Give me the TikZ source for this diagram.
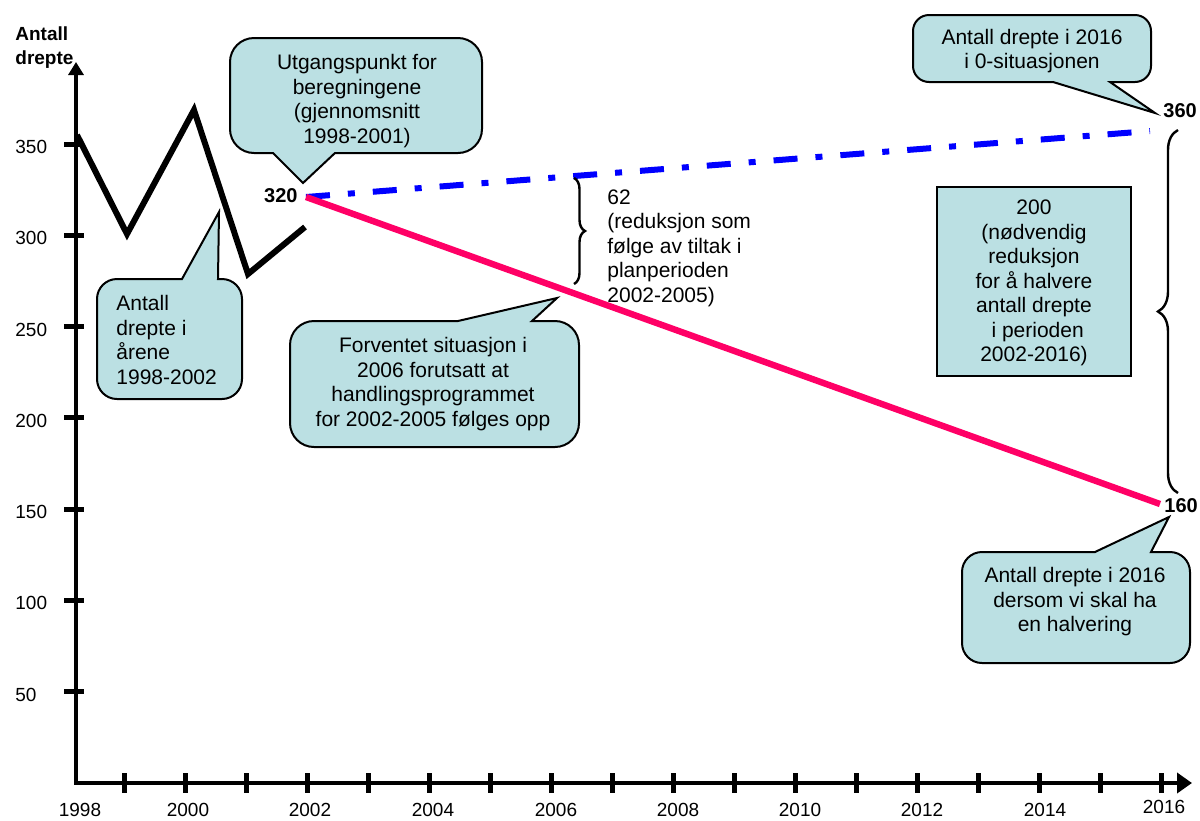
\documentclass[tikz,border=0pt]{standalone}
\usepackage{fontspec}
\setmainfont{Liberation Sans}
\usetikzlibrary{arrows.meta,decorations.pathreplacing}
\definecolor{bubblefill}{RGB}{187,224,227}
\definecolor{lineblue}{RGB}{0,0,255}
\definecolor{linepink}{RGB}{255,0,102}
% #1 L, #2 T, #3 R, #4 B, #5 radius, #6 top pointer part, #7 bottom pointer part
\newcommand{\drawbubble}[7]{%
  \draw[bubble] (#1+#5,#2) #6 -- (#3-#5,#2)
    .. controls (#3-0.448*#5,#2) and (#3,#2+0.448*#5) .. (#3,#2+#5)
    -- (#3,#4-#5)
    .. controls (#3,#4-0.448*#5) and (#3-0.448*#5,#4) .. (#3-#5,#4)
    #7 -- (#1+#5,#4)
    .. controls (#1+0.448*#5,#4) and (#1,#4-0.448*#5) .. (#1,#4-#5)
    -- (#1,#2+#5)
    .. controls (#1,#2+0.448*#5) and (#1+0.448*#5,#2) .. (#1+#5,#2) -- cycle;}
\begin{document}
\begin{tikzpicture}[x=0.5pt,y=-0.5pt,
  bubble/.style={draw=black, line width=1pt, fill=bubblefill},
  txt/.style={font=\fontsize{10.5}{12.25}\selectfont, inner sep=0pt, align=center},
  lab/.style={font=\fontsize{9.5}{11}\selectfont, inner sep=0pt},
  val/.style={font=\fontsize{10}{12}\selectfont\bfseries, inner sep=0pt},
  axisline/.style={line width=2.2pt},
  tickmark/.style={line width=2.5pt},
  dataline/.style={line width=3pt, line join=miter},
  bracestyle/.style={line width=1.2pt, decorate}]
\useasboundingbox (0,0) rectangle (1200,820);

% axes
\coordinate (ytop) at (76,62);
\coordinate (orig) at (76,783);
\coordinate (xend) at (1192,783);
\draw[axisline, {Triangle[length=6.5pt,width=7.5pt]}-{Triangle[length=7.5pt,width=10pt]}] (ytop) -- (orig) -- (xend);

% y ticks and labels
\foreach \v/\yy in {350/144.0,300/235.3,250/326.6,200/417.9,150/509.1,100/600.4,50/691.7}{
  \draw[tickmark] (64,\yy) -- (84,\yy);
  \node[lab, anchor=west] (ylab\v) at (15,\yy+3) {\v};
}
\node[font=\fontsize{9.5}{12}\selectfont\bfseries, inner sep=0pt, align=left, anchor=west] (ytitle) at (15,48) {Antall\\drepte};

% x ticks and labels
\foreach \i in {0,...,17}{
  \draw[tickmark] (124.5+61*\i,773) -- (124.5+61*\i,793);
}
\foreach \yr/\xx in {1998/80,2000/188,2002/310,2004/433,2006/556,2008/678,2010/800,2012/922,2014/1045}{
  \node[lab] (xlab\yr) at (\xx,810) {\yr};
}
\node[lab] (xlab2016) at (1164,807) {2016};

% data 1998-2002
\coordinate (d98) at (77,135);
\coordinate (d99) at (127,234);
\coordinate (d00) at (194,110);
\coordinate (d01) at (248,274);
\coordinate (d02) at (305,227);
\draw[dataline] (d98) -- (d99) -- (d00) -- (d01) -- (d02);

% projections
\coordinate (p0) at (306,197);
\coordinate (pblue) at (1150,131);
\coordinate (ppink) at (1160,504);
\draw[line width=3pt, color=lineblue, dash pattern=on 12pt off 9pt on 3.5pt off 9pt] (p0) -- (pblue);
\draw[line width=3.2pt, color=linepink] (p0) -- (ppink);

\node[val, anchor=east] (v320) at (298,196) {320};
\node[val, anchor=west] (v360) at (1163,111) {360};
\node[val, anchor=west] (v160) at (1164,506) {160};

% braces
\coordinate (b1a) at (574,178);
\coordinate (b1b) at (574,284);
\draw[bracestyle, decoration={brace, amplitude=5.5pt}] (b1a) -- (b1b);
\coordinate (b2a) at (1178,493);
\coordinate (b2b) at (1178,130);
\draw[bracestyle, decoration={brace, amplitude=10pt}] (b2a) -- (b2b);

\node[txt, align=left, anchor=west] (t62) at (607,248) {62\\(reduksjon som\\følge av tiltak i\\planperioden\\2002-2005)};

% callouts
\drawbubble{230}{38}{482}{153}{24}{}{-- (335,153) -- (303,183) -- (273,153)}
\node[txt] (t1) at (357,101) {Utgangspunkt for\\beregningene\\(gjennomsnitt\\1998-2001)};

\drawbubble{97}{279}{242}{399}{20}{-- (182,279) -- (219,212) -- (218,279)}{}
\node[txt, align=left, anchor=west] (t2) at (116,340) {Antall\\drepte i\\årene\\1998-2002};

\drawbubble{290}{321}{579}{447}{24}{-- (458,321) -- (557,298) -- (532,321)}{}
\node[txt] (t3) at (433,384) {Forventet situasjon i\\2006 forutsatt at\\handlingsprogrammet\\for 2002-2005 følges opp};

\drawbubble{913}{15}{1151}{82}{16}{}{-- (1110,82) -- (1155,113) -- (1053,82)}
\node[txt] (t4) at (1032,51) {Antall drepte i 2016\\i 0-situasjonen};

\draw[line width=1pt, fill=bubblefill] (937,187) rectangle (1131,376);
\node[txt] (t5) at (1034,283) {200\\(nødvendig\\reduksjon\\for å halvere\\antall drepte\\\hspace*{0.35em}i perioden\\2002-2016)};

\drawbubble{962}{552}{1190}{663}{20}{-- (1095,552) -- (1169,517) -- (1151,552)}{}
\node[txt] (t6) at (1075,602) {Antall drepte i 2016\\dersom vi skal ha\\en halvering};
\end{tikzpicture}
\end{document}
